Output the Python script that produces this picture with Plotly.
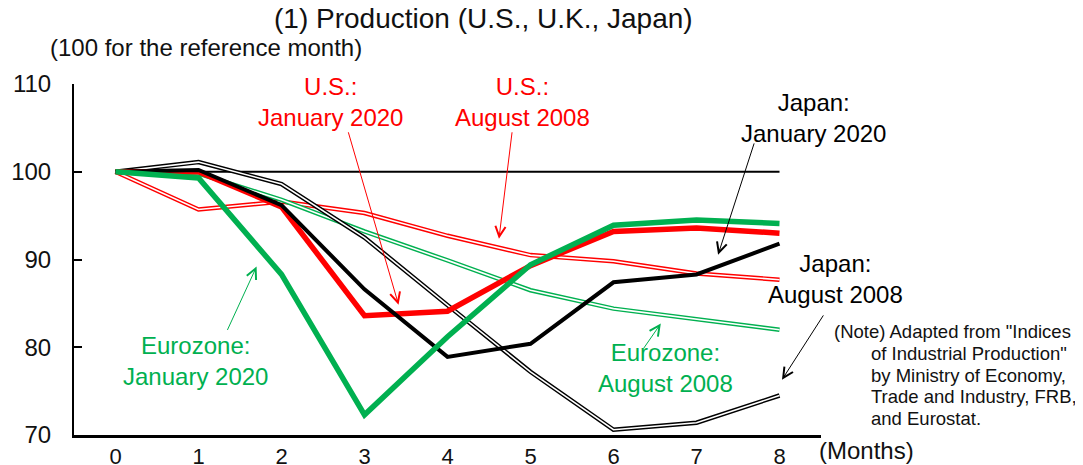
import plotly.graph_objects as go

# ---------------- data ----------------
months = [0, 1, 2, 3, 4, 5, 6, 7, 8]
month_labels = ["0", "1", "2", "3", "4", "5", "6", "7", "8"]

us_2020 = [100.0, 100.0, 96.0, 83.6, 84.1, 89.3, 93.2, 93.6, 93.0]
euro_2020 = [100.0, 99.3, 88.3, 72.3, 81.2, 89.4, 93.9, 94.5, 94.1]
japan_2020 = [100.0, 100.2, 96.2, 86.6, 78.9, 80.4, 87.4, 88.3, 91.8]

us_2008 = [100.0, 95.7, 96.6, 95.3, 92.7, 90.5, 89.8, 88.4, 87.7]
euro_2008 = [100.0, 99.8, 96.8, 93.2, 89.9, 86.5, 84.4, 83.2, 82.0]
japan_2008 = [100.0, 101.1, 98.6, 92.5, 84.8, 77.2, 70.6, 71.4, 74.5]

ref_line_x = [0, 8]
ref_level = 100

y_ticks = [70, 80, 90, 100, 110]

title_text = "(1) Production (U.S., U.K., Japan)"
unit_text = "(100 for the reference month)"
x_unit_text = "(Months)"
note_lines = [
    "(Note) Adapted from \"Indices",
    "of Industrial Production\"",
    "by Ministry of Economy,",
    "Trade and Industry, FRB,",
    "and Eurostat.",
]

RED = "#FF0000"
GREEN = "#00B050"
BLACK = "#000000"
TXT = "#111111"
FONT = "Liberation Sans, Arial, sans-serif"

# page is 1083x465; the figure sits after the default 8px body margin
PAGE_W, PAGE_H, OFF = 1083, 465, 8
FIG_W, FIG_H = PAGE_W - OFF, PAGE_H - OFF

fig = go.Figure()

# reference level line
fig.add_trace(go.Scatter(x=ref_line_x, y=[ref_level] * len(ref_line_x), mode="lines",
                         line=dict(color=BLACK, width=2), hoverinfo="skip"))

# double lines (2008)
for vals, col in [(us_2008, RED), (euro_2008, GREEN), (japan_2008, BLACK)]:
    fig.add_trace(go.Scatter(x=months, y=vals, mode="lines",
                             line=dict(color=col, width=4.5), hoverinfo="skip"))
    fig.add_trace(go.Scatter(x=months, y=vals, mode="lines",
                             line=dict(color="white", width=1.6), hoverinfo="skip"))

# thick lines (2020)
fig.add_trace(go.Scatter(x=months, y=us_2020, mode="lines",
                         line=dict(color=RED, width=5.5), hoverinfo="skip"))
fig.add_trace(go.Scatter(x=months, y=japan_2020, mode="lines",
                         line=dict(color=BLACK, width=4), hoverinfo="skip"))
fig.add_trace(go.Scatter(x=months, y=euro_2020, mode="lines",
                         line=dict(color=GREEN, width=5.5), hoverinfo="skip"))

# plot area in page px: x 74..821, y 84..435
PX_L, PX_R, PX_T, PX_B = 74, 821, 84, 435


def px_x(px):
    return (px - PX_L) / (PX_R - PX_L)


def px_y(py):
    return (PX_B - py) / (PX_B - PX_T)


annotations = []

# series labels (paper coordinates so labels outside the x range still show)
labels = [
    ("U.S.:<br>January 2020", 330, 102.5, RED),
    ("U.S.:<br>August 2008", 522, 102.5, RED),
    ("Japan:<br>January 2020", 813, 117.5, BLACK),
    ("Japan:<br>August 2008", 835, 279, BLACK),
    ("Eurozone:<br>January 2020", 195, 361, GREEN),
    ("Eurozone:<br>August 2008", 665, 368, GREEN),
]
for txt, px, py, col in labels:
    annotations.append(dict(x=px_x(px), y=px_y(py), xref="paper", yref="paper",
                            text=txt, showarrow=False,
                            font=dict(family=FONT, size=24, color=col),
                            align="center", xanchor="center", yanchor="middle"))

# arrows: (head_x, head_y, tail_x, tail_y, color)
arrows = [
    (3.41, 84.85, 2.80, 104.67, RED),
    (4.62, 92.37, 4.78, 104.67, RED),
    (7.26, 90.55, 7.70, 103.4, BLACK),
    (8.03, 76.3, 8.54, 83.8, BLACK),
    (6.57, 82.7, 6.35, 79.7, GREEN),
    (1.70, 89.2, 1.34, 81.8, GREEN),
]
for hx, hy, tx, ty, col in arrows:
    annotations.append(dict(x=hx, y=hy, ax=tx, ay=ty, xref="x", yref="y",
                            axref="x", ayref="y", text="", showarrow=True,
                            arrowhead=5, arrowsize=2, arrowwidth=1, arrowcolor=col,
                            standoff=0, startstandoff=0))

annotations.append(dict(x=px_x(483), y=px_y(18), xref="paper", yref="paper",
                        text=title_text, showarrow=False,
                        font=dict(family=FONT, size=28, color=TXT),
                        xanchor="center", yanchor="middle"))
annotations.append(dict(x=px_x(48), y=px_y(48), xref="paper", yref="paper",
                        text=unit_text, showarrow=False,
                        font=dict(family=FONT, size=24, color=TXT),
                        xanchor="left", yanchor="middle"))
annotations.append(dict(x=px_x(817), y=px_y(450), xref="paper", yref="paper",
                        text=x_unit_text, showarrow=False,
                        font=dict(family=FONT, size=24, color=TXT),
                        xanchor="left", yanchor="middle"))

note_y = [331, 353, 375, 396, 418]
note_x = [832, 869, 869, 869, 869]
for txt, nx, ny in zip(note_lines, note_x, note_y):
    annotations.append(dict(x=px_x(nx), y=px_y(ny), xref="paper", yref="paper",
                            text=txt, showarrow=False,
                            font=dict(family=FONT, size=18.5, color=TXT),
                            xanchor="left", yanchor="middle"))

fig.update_layout(
    width=FIG_W, height=FIG_H,
    margin=dict(l=PX_L - OFF, r=PAGE_W - PX_R, t=PX_T - OFF, b=PAGE_H - PX_B,
                pad=0, autoexpand=False),
    paper_bgcolor="white", plot_bgcolor="white",
    showlegend=False, hovermode=False,
    font=dict(family=FONT, size=22, color=TXT),
    annotations=annotations,
    xaxis=dict(range=[-0.5, 8.5], tickvals=months, ticktext=month_labels,
               showgrid=False, zeroline=False, showline=True, linecolor=BLACK,
               linewidth=2.5, ticks="", ticklen=0, ticklabelstandoff=0,
               tickfont=dict(family=FONT, size=22, color=TXT)),
    yaxis=dict(range=[70, 110], tickvals=y_ticks,
               showgrid=False, zeroline=False, showline=True, linecolor=BLACK,
               linewidth=2, ticks="inside", ticklen=8, tickwidth=1.5, tickcolor=BLACK,
               ticklabelstandoff=16,
               tickfont=dict(family=FONT, size=24, color=TXT)),
)

fig.write_html("out.html")
